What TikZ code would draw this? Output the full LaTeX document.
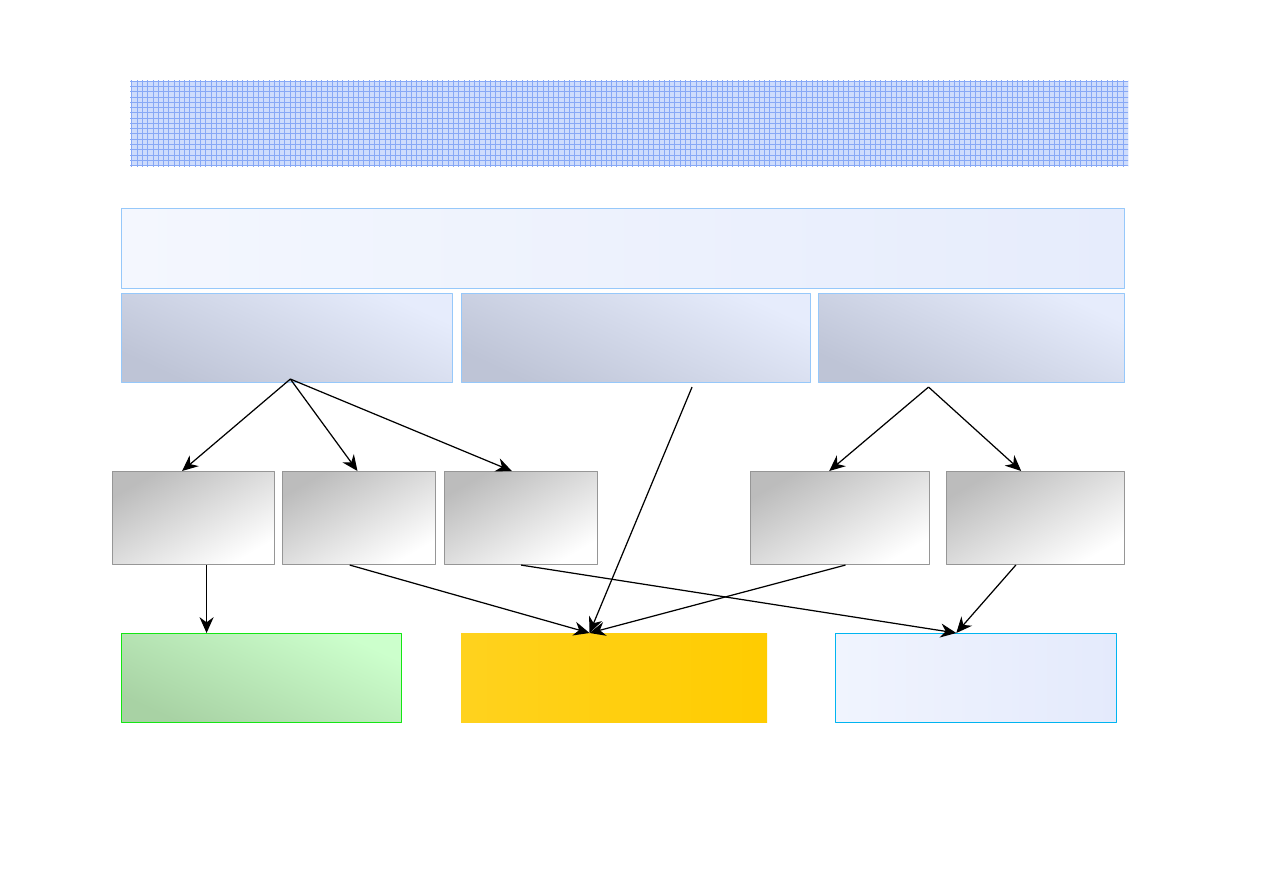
\documentclass[tikz,border=0pt]{standalone}
\usetikzlibrary{arrows.meta,patterns,calc}
\definecolor{bandfill}{RGB}{206,220,252}
\definecolor{bandgrid}{RGB}{135,168,246}
\definecolor{edgeblue}{RGB}{150,200,250}
\definecolor{palelav}{RGB}{244,247,254}
\definecolor{midlav}{RGB}{230,236,252}
\definecolor{darklav}{RGB}{190,196,214}
\definecolor{edgegray}{RGB}{150,150,150}
\definecolor{darkgray}{RGB}{188,188,188}
\definecolor{edgegreen}{RGB}{20,230,20}
\definecolor{lightgreen}{RGB}{204,255,204}
\definecolor{deepgreen}{RGB}{168,210,164}
\definecolor{goldA}{RGB}{255,210,30}
\definecolor{goldB}{RGB}{255,204,0}
\definecolor{edgecyan}{RGB}{0,180,240}
\definecolor{skyA}{RGB}{240,244,254}
\definecolor{skyB}{RGB}{228,234,252}

\begin{document}
\begin{tikzpicture}[>=Stealth, line join=round,
  box/.style={anchor=north west, inner sep=0pt, line width=0.6pt},
  headbox/.style={box, draw=edgeblue, left color=palelav, right color=midlav},
  groupbox/.style={box, draw=edgeblue, top color=midlav, bottom color=darklav, shading angle=-25},
  itembox/.style={box, draw=edgegray, top color=darkgray, bottom color=white, shading angle=30},
  link/.style={->, line width=0.7pt, >={Stealth[length=9pt,width=8pt]}}]

\useasboundingbox (0,0) rectangle (25.26,-17.86);

% ---------- banner and header ----------
\node[box, minimum width=19.94cm, minimum height=1.70cm, fill=bandfill] (banner) at (2.60,-1.60) {};
\fill[pattern=grid, pattern color=bandgrid] (banner.south west) rectangle (banner.north east);
\node[headbox, minimum width=20.06cm, minimum height=1.60cm] (head) at (2.42,-4.16) {};

% ---------- groups ----------
\node[groupbox, minimum width=6.62cm, minimum height=1.78cm] (grpA) at (2.42,-5.86) {};
\node[groupbox, minimum width=6.98cm, minimum height=1.78cm] (grpB) at (9.22,-5.86) {};
\node[groupbox, minimum width=6.12cm, minimum height=1.78cm] (grpC) at (16.36,-5.86) {};

% ---------- items ----------
\node[itembox, minimum width=3.24cm, minimum height=1.86cm] (itemA) at (2.24,-9.42) {};
\node[itembox, minimum width=3.06cm, minimum height=1.86cm] (itemB) at (5.64,-9.42) {};
\node[itembox, minimum width=3.06cm, minimum height=1.86cm] (itemC) at (8.88,-9.42) {};
\node[itembox, minimum width=3.58cm, minimum height=1.86cm] (itemD) at (15.00,-9.42) {};
\node[itembox, minimum width=3.56cm, minimum height=1.86cm] (itemE) at (18.92,-9.42) {};

% ---------- outcomes ----------
\node[box, draw=edgegreen, top color=lightgreen, bottom color=deepgreen, shading angle=-25,
  minimum width=5.60cm, minimum height=1.78cm] (outGreen) at (2.42,-12.66) {};
\node[box, left color=goldA, right color=goldB, line width=0pt,
  minimum width=6.12cm, minimum height=1.78cm] (outGold) at (9.22,-12.66) {};
\node[box, draw=edgecyan, left color=skyA, right color=skyB,
  minimum width=5.62cm, minimum height=1.78cm] (outSky) at (16.70,-12.66) {};

% ---------- connectors ----------
\coordinate (tapA) at ($(grpA.south west)!0.51!(grpA.south east)+(0,0.08)$);
\coordinate (tapB) at ($(grpB.south west)!0.66!(grpB.south east)+(0,-0.08)$);
\coordinate (tapC) at ($(grpC.south west)!0.36!(grpC.south east)+(0,-0.08)$);
\coordinate (dropA) at ($(itemA.south west)!0.58!(itemA.south east)$);
\coordinate (hitGold) at ($(outGold.north west)!0.42!(outGold.north east)$);
\coordinate (hitSky) at ($(outSky.north west)!0.43!(outSky.north east)$);

\draw[link] (tapA) -- ($(itemA.north west)!0.43!(itemA.north east)$);
\draw[link] (tapA) -- ($(itemB.north west)!0.49!(itemB.north east)$);
\draw[link] (tapA) -- ($(itemC.north west)!0.44!(itemC.north east)$);
\draw[link] (tapB) -- (hitGold);
\draw[link] (tapC) -- ($(itemD.north west)!0.44!(itemD.north east)$);
\draw[link] (tapC) -- ($(itemE.north west)!0.42!(itemE.north east)$);

\draw[link] (dropA) -- (dropA |- outGreen.north);
\draw[link] ($(itemB.south west)!0.44!(itemB.south east)$) -- (hitGold);
\draw[link] ($(itemC.south west)!0.50!(itemC.south east)$) -- (hitSky);
\draw[link] ($(itemD.south west)!0.53!(itemD.south east)$) -- (hitGold);
\draw[link] ($(itemE.south west)!0.39!(itemE.south east)$) -- (hitSky);

\end{tikzpicture}
\end{document}
